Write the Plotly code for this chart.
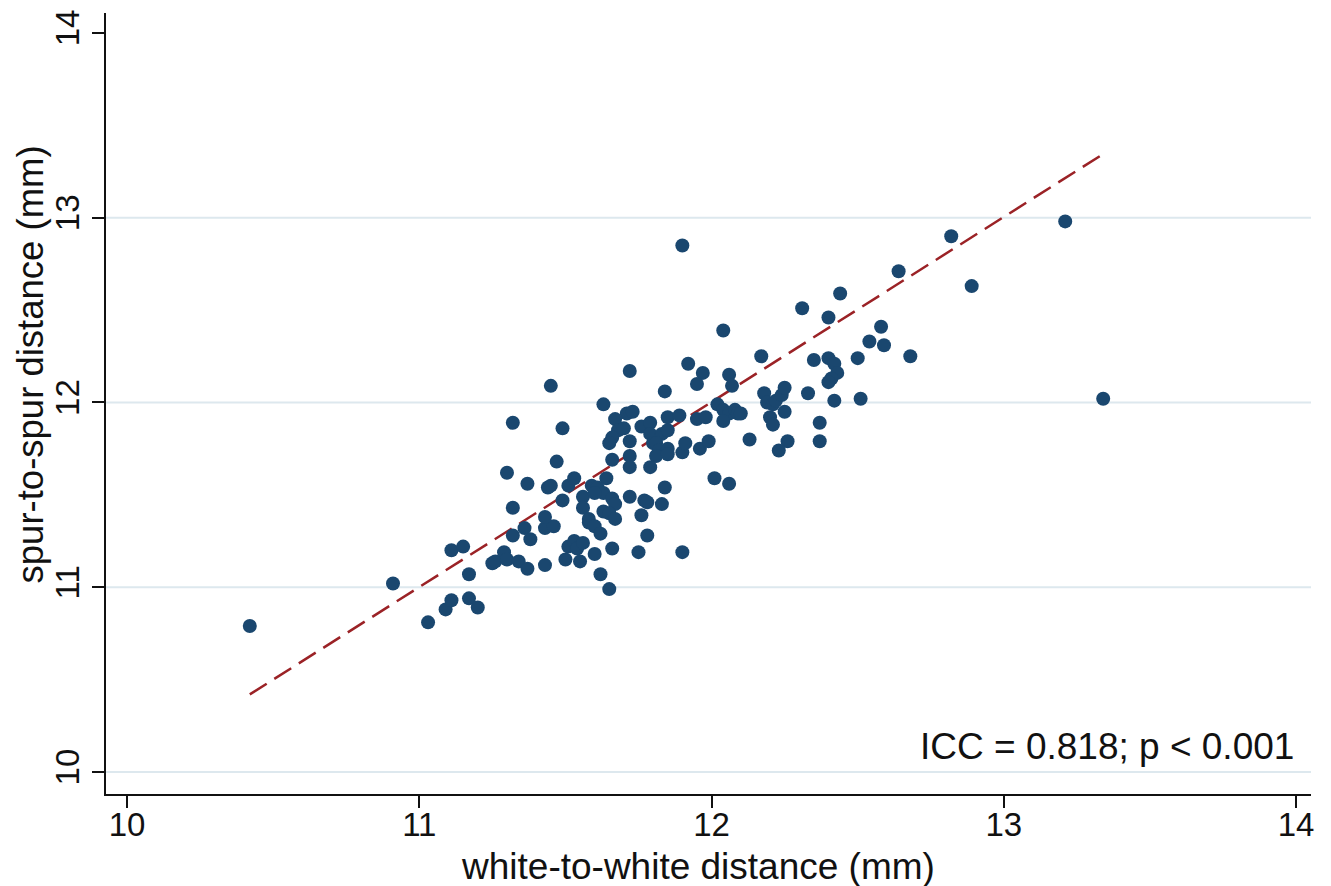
import plotly.graph_objects as go

# white-to-white distance (mm)
wtw = [10.42, 10.91, 11.03, 11.09, 11.11, 11.11, 11.15, 11.17, 11.17, 11.20,
       11.25, 11.26, 11.29, 11.30, 11.32, 11.36, 11.38, 11.34, 11.37, 11.43,
       11.43, 11.46, 11.50, 11.51, 11.53, 11.54, 11.56, 11.55, 11.58,
       11.32, 11.49, 11.47, 11.30, 11.37, 11.44, 11.45, 11.51, 11.53, 11.49,
       11.56, 11.56, 11.58, 11.32, 11.43, 11.45,
       11.72, 11.92, 11.97, 11.95, 12.06, 12.07, 11.84, 11.63, 11.71, 11.73,
       11.67, 11.68, 11.66, 11.65, 11.70, 11.76, 11.79, 11.72, 11.79, 11.80,
       11.85, 11.89, 11.83, 11.85, 11.81, 11.82, 11.81, 11.85, 11.85, 11.90,
       11.91, 11.95, 11.98, 11.96, 11.99, 12.02, 12.04, 12.06, 12.08, 12.09,
       12.04, 11.66, 11.72, 11.72, 11.79, 11.64, 11.59, 11.61, 11.63, 11.60,
       11.66, 11.67, 11.63, 11.65, 11.67, 11.60, 11.62, 11.72, 11.84, 11.77,
       11.78, 11.83, 11.76, 11.78, 11.60, 11.66, 11.75, 11.90, 11.62, 11.65,
       12.01, 12.06, 12.04, 11.90,
       12.17, 12.35, 12.40, 12.42, 12.43, 12.41, 12.40, 12.50, 12.54, 12.59,
       12.33, 12.18, 12.19, 12.21, 12.22, 12.24, 12.25, 12.10, 12.25, 12.20,
       12.21, 12.42, 12.51, 12.37, 12.13, 12.26, 12.23, 12.37,
       12.82, 12.64, 12.44, 12.31, 12.40, 12.58, 12.68, 13.21, 12.89, 13.34]

# spur-to-spur distance (mm)
sts = [10.79, 11.02, 10.81, 10.88, 10.93, 11.20, 11.22, 11.07, 10.94, 10.89,
       11.13, 11.14, 11.19, 11.15, 11.28, 11.32, 11.26, 11.14, 11.10, 11.12,
       11.32, 11.33, 11.15, 11.22, 11.25, 11.21, 11.24, 11.14, 11.35,
       11.89, 11.86, 11.68, 11.62, 11.56, 11.54, 11.55, 11.55, 11.59, 11.47,
       11.49, 11.43, 11.37, 11.43, 11.38, 12.09,
       12.17, 12.21, 12.16, 12.10, 12.15, 12.09, 12.06, 11.99, 11.94, 11.95,
       11.91, 11.85, 11.81, 11.78, 11.86, 11.87, 11.89, 11.79, 11.83, 11.78,
       11.92, 11.93, 11.83, 11.85, 11.78, 11.74, 11.71, 11.75, 11.72, 11.73,
       11.78, 11.91, 11.92, 11.75, 11.79, 11.99, 11.96, 11.94, 11.96, 11.94,
       11.90, 11.69, 11.71, 11.65, 11.65, 11.59, 11.55, 11.54, 11.51, 11.51,
       11.48, 11.45, 11.41, 11.40, 11.37, 11.33, 11.29, 11.49, 11.54, 11.47,
       11.46, 11.45, 11.39, 11.28, 11.18, 11.21, 11.19, 11.19, 11.07, 10.99,
       11.59, 11.56, 12.39, 12.85,
       12.25, 12.23, 12.24, 12.21, 12.16, 12.13, 12.11, 12.24, 12.33, 12.31,
       12.05, 12.05, 12.00, 11.99, 12.01, 12.04, 12.08, 11.94, 11.95, 11.92,
       11.88, 12.01, 12.02, 11.89, 11.80, 11.79, 11.74, 11.79,
       12.90, 12.71, 12.59, 12.51, 12.46, 12.41, 12.25, 12.98, 12.63, 12.02]

# dashed reference line (endpoints)
line_x = [10.42, 13.34]
line_y = [10.42, 13.345]

tick_vals = [10, 11, 12, 13, 14]
grid_vals = [10, 11, 12, 13]

x_title = "white-to-white distance (mm)"
y_title = "spur-to-spur distance (mm)"
note = "ICC = 0.818; p < 0.001"

FONT = "Liberation Sans, Arial, Helvetica, sans-serif"

fig = go.Figure()
fig.add_trace(go.Scatter(
    x=line_x, y=line_y, mode="lines",
    line=dict(color="#9b2226", width=2.5, dash="20px,9px"),
    hoverinfo="skip", showlegend=False))
fig.add_trace(go.Scatter(
    x=wtw, y=sts, mode="markers",
    marker=dict(color="#1a476f", size=14, line=dict(width=0)),
    showlegend=False))

for g in grid_vals:
    fig.add_hline(y=g, line=dict(color="#dde8ee", width=2), layer="below")

fig.update_layout(
    width=1331, height=886,
    paper_bgcolor="white", plot_bgcolor="white",
    margin=dict(l=98, r=28, t=5, b=100),
    font=dict(family=FONT, color="#111111"),
    showlegend=False,
)
fig.update_xaxes(
    range=[9.928, 14.051], tickvals=tick_vals,
    ticks="outside", ticklen=12, tickwidth=2, tickcolor="#111",
    showline=True, linecolor="#111", linewidth=2,
    showgrid=False, zeroline=False, automargin=False,
    ticklabelstandoff=-12,
    tickfont=dict(size=33, family=FONT, color="#111"),
)
fig.update_yaxes(
    range=[9.881, 14.108], tickvals=tick_vals,
    ticks="outside", ticklen=12, tickwidth=2, tickcolor="#111",
    showline=True, linecolor="#111", linewidth=2,
    showgrid=False, zeroline=False, tickangle=-90, automargin=False,
    tickfont=dict(size=33, family=FONT, color="#111"),
)

fig.add_annotation(text=x_title, xref="paper", yref="paper", x=0.491, y=0,
                   yshift=-72, xanchor="center", yanchor="middle", showarrow=False,
                   font=dict(size=37, family=FONT, color="#111"))
fig.add_annotation(text=y_title, xref="paper", yref="paper", x=0, y=0.55,
                   xshift=-76, xanchor="center", yanchor="middle", textangle=-90,
                   showarrow=False, font=dict(size=36.5, family=FONT, color="#111"))
fig.add_annotation(text=note, xref="x", yref="y", x=14, y=10.14,
                   xanchor="right", yanchor="middle", showarrow=False,
                   font=dict(size=37, family=FONT, color="#111"))

fig.write_html("out.html")
